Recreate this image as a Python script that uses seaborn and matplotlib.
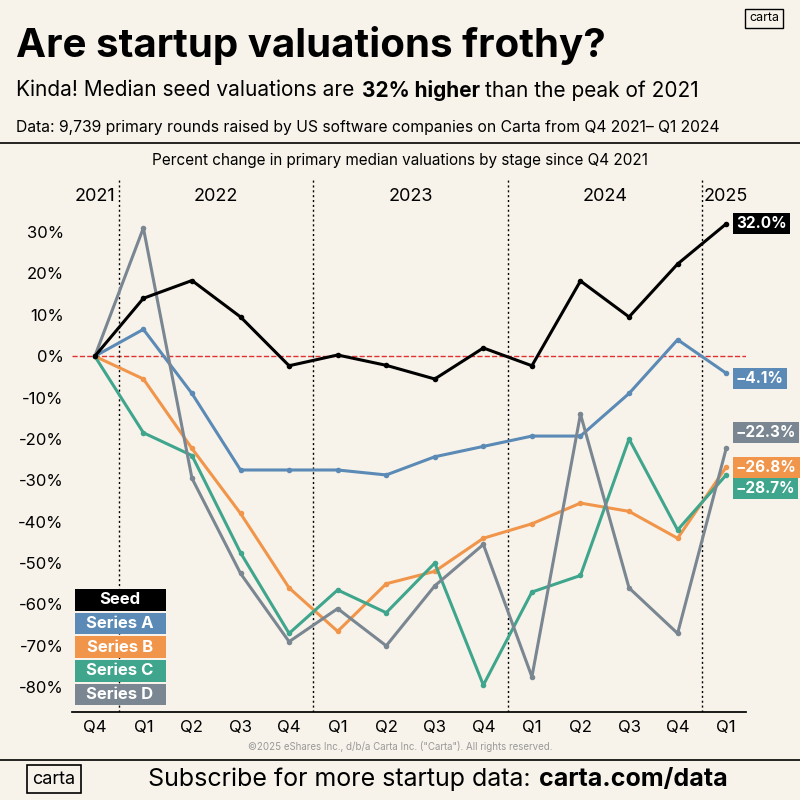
import matplotlib
matplotlib.use("Agg")
import matplotlib.pyplot as plt
from matplotlib.patches import Rectangle
import seaborn as sns
import pandas as pd

quarters = ["Q4","Q1","Q2","Q3","Q4","Q1","Q2","Q3","Q4","Q1","Q2","Q3","Q4","Q1"]
seed     = [0, 14, 18.3, 9.5, -2.3, 0.3, -2.2, -5.5, 2, -2.3, 18.2, 9.5, 22.3, 32.0]
series_a = [0, 6.5, -9, -27.5, -27.5, -27.5, -28.7, -24.3, -21.8, -19.3, -19.3, -9, 4, -4.1]
series_b = [0, -5.5, -22.3, -38, -56, -66.5, -55, -52, -44, -40.5, -35.5, -37.5, -44, -26.8]
series_c = [0, -18.5, -24, -47.5, -67, -56.5, -62, -50, -79.5, -57, -53, -20, -42, -28.7]
series_d = [0, 31, -29.5, -52.5, -69, -61, -70, -55.5, -45.5, -77.5, -14, -56, -67, -22.3]
names = ["Seed", "Series A", "Series B", "Series C", "Series D"]
colors = ["#000000", "#5a8ab5", "#f0954a", "#3fa58c", "#7a8691"]
years = ["2021", "2022", "2023", "2024", "2025"]
year_pos = [0, 2.5, 6.5, 10.5, 13]

rows = []
for n, vals in zip(names, [seed, series_a, series_b, series_c, series_d]):
    for i, v in enumerate(vals):
        rows.append({"idx": i, "val": v, "stage": n})
df = pd.DataFrame(rows)

bg = "#f7f3ea"
sns.set_theme(style="white")
plt.rcParams['font.family'] = ['Inter', 'DejaVu Sans']
plt.rcParams['text.color'] = 'black'
plt.rcParams['xtick.color'] = 'black'
plt.rcParams['ytick.color'] = 'black'
fig = plt.figure(figsize=(8, 8), dpi=100, facecolor=bg)
ax = fig.add_axes([0.09, 0.11, 0.842, 0.665], facecolor=bg)

sns.lineplot(data=df, x="idx", y="val", hue="stage", palette=colors, hue_order=names,
             marker="o", markersize=4, markeredgewidth=0, linewidth=2.2, legend=False, ax=ax)
ax.lines[0].set_zorder(5)

ax.set_xlim(-0.47, 13.4)
ax.set_ylim(-86, 42.6)
ax.axhline(0, color="#e03030", ls="--", lw=1, zorder=1)
for xv in [0.5, 4.5, 8.5, 12.5]:
    ax.axvline(xv, color="black", ls=(0, (1.5, 2)), lw=1, zorder=1)
for y, xp in zip(years, year_pos):
    ax.text(xp, 38.5, y, ha="center", va="center", fontsize=13)
ax.set_xticks(range(len(quarters)))
ax.set_xticklabels(quarters, fontsize=12)
ax.set_yticks(range(-80, 31, 10))
ax.set_yticklabels([f"{v}%" for v in range(-80, 31, 10)], fontsize=12)
ax.set_xlabel(""); ax.set_ylabel("")
for s in ["top", "right", "left"]:
    ax.spines[s].set_visible(False)
ax.spines["bottom"].set_color("black")
ax.tick_params(axis="both", length=0, pad=6)

end_y = {"Seed": 32.0, "Series A": -5.3, "Series B": -26.8, "Series C": -32.0, "Series D": -18.5}
for n, c, vals in zip(names, colors, [seed, series_a, series_b, series_c, series_d]):
    ax.text(13.2, end_y[n], f"{vals[-1]:.1f}%".replace("-", "−"), color="white", fontsize=11,
            fontweight="bold", va="center", ha="left", clip_on=False,
            bbox=dict(boxstyle="square,pad=0.2", fc=c, ec="none"))

for k, (n, c) in enumerate(zip(names, colors)):
    yc = 0.25 - k * 0.0295
    fig.add_artist(Rectangle((0.094, yc - 0.0135), 0.113, 0.027, transform=fig.transFigure,
                             fc=c, ec="none"))
    fig.text(0.15, yc, n, color="white", fontsize=12, fontweight="bold",
             va="center", ha="center")

fig.text(0.02, 0.943, "Are startup valuations frothy?", fontsize=29, fontweight="bold", va="center")
t1 = fig.text(0.02, 0.887, "Kinda! Median seed valuations are ", fontsize=15, va="center")
t2 = fig.text(0, 0, "32% higher", fontsize=15, fontweight="bold", va="center")
fig.canvas.draw()
r = fig.canvas.get_renderer()
bb = t1.get_window_extent(r)
t2.set_position(((bb.x1 + 2) / 800, 0.887))
bb2 = t2.get_window_extent(r)
fig.text((bb2.x1 + 5) / 800, 0.887, "than the peak of 2021", fontsize=15, va="center")
fig.text(0.02, 0.841, "Data: 9,739 primary rounds raised by US software companies on Carta from Q4 2021– Q1 2024",
         fontsize=11.3, va="center")
fig.add_artist(plt.Line2D([0, 1], [0.821, 0.821], color="black", lw=1.2))
fig.text(0.5, 0.8, "Percent change in primary median valuations by stage since Q4 2021",
         fontsize=11, ha="center", va="center")
fig.text(0.5, 0.067, "©2025 eShares Inc., d/b/a Carta Inc. (\"Carta\"). All rights reserved.",
         fontsize=7, ha="center", va="center", color="#999999")
fig.add_artist(plt.Line2D([0, 1], [0.05, 0.05], color="black", lw=1.2))
fig.text(0.04, 0.026, "carta", fontsize=13, va="center", ha="left",
         bbox=dict(boxstyle="square,pad=0.3", fc=bg, ec="black", lw=1.2))
fig.text(0.955, 0.977, "carta", fontsize=9, va="center", ha="center",
         bbox=dict(boxstyle="square,pad=0.3", fc=bg, ec="black", lw=1))
s1 = fig.text(0.185, 0.026, "Subscribe for more startup data:", fontsize=18, va="center")
fig.canvas.draw()
bb3 = s1.get_window_extent(fig.canvas.get_renderer())
fig.text((bb3.x1 + 8) / 800, 0.026, "carta.com/data", fontsize=18, va="center", fontweight="bold")

fig.savefig("out.png", dpi=100, facecolor=bg)
